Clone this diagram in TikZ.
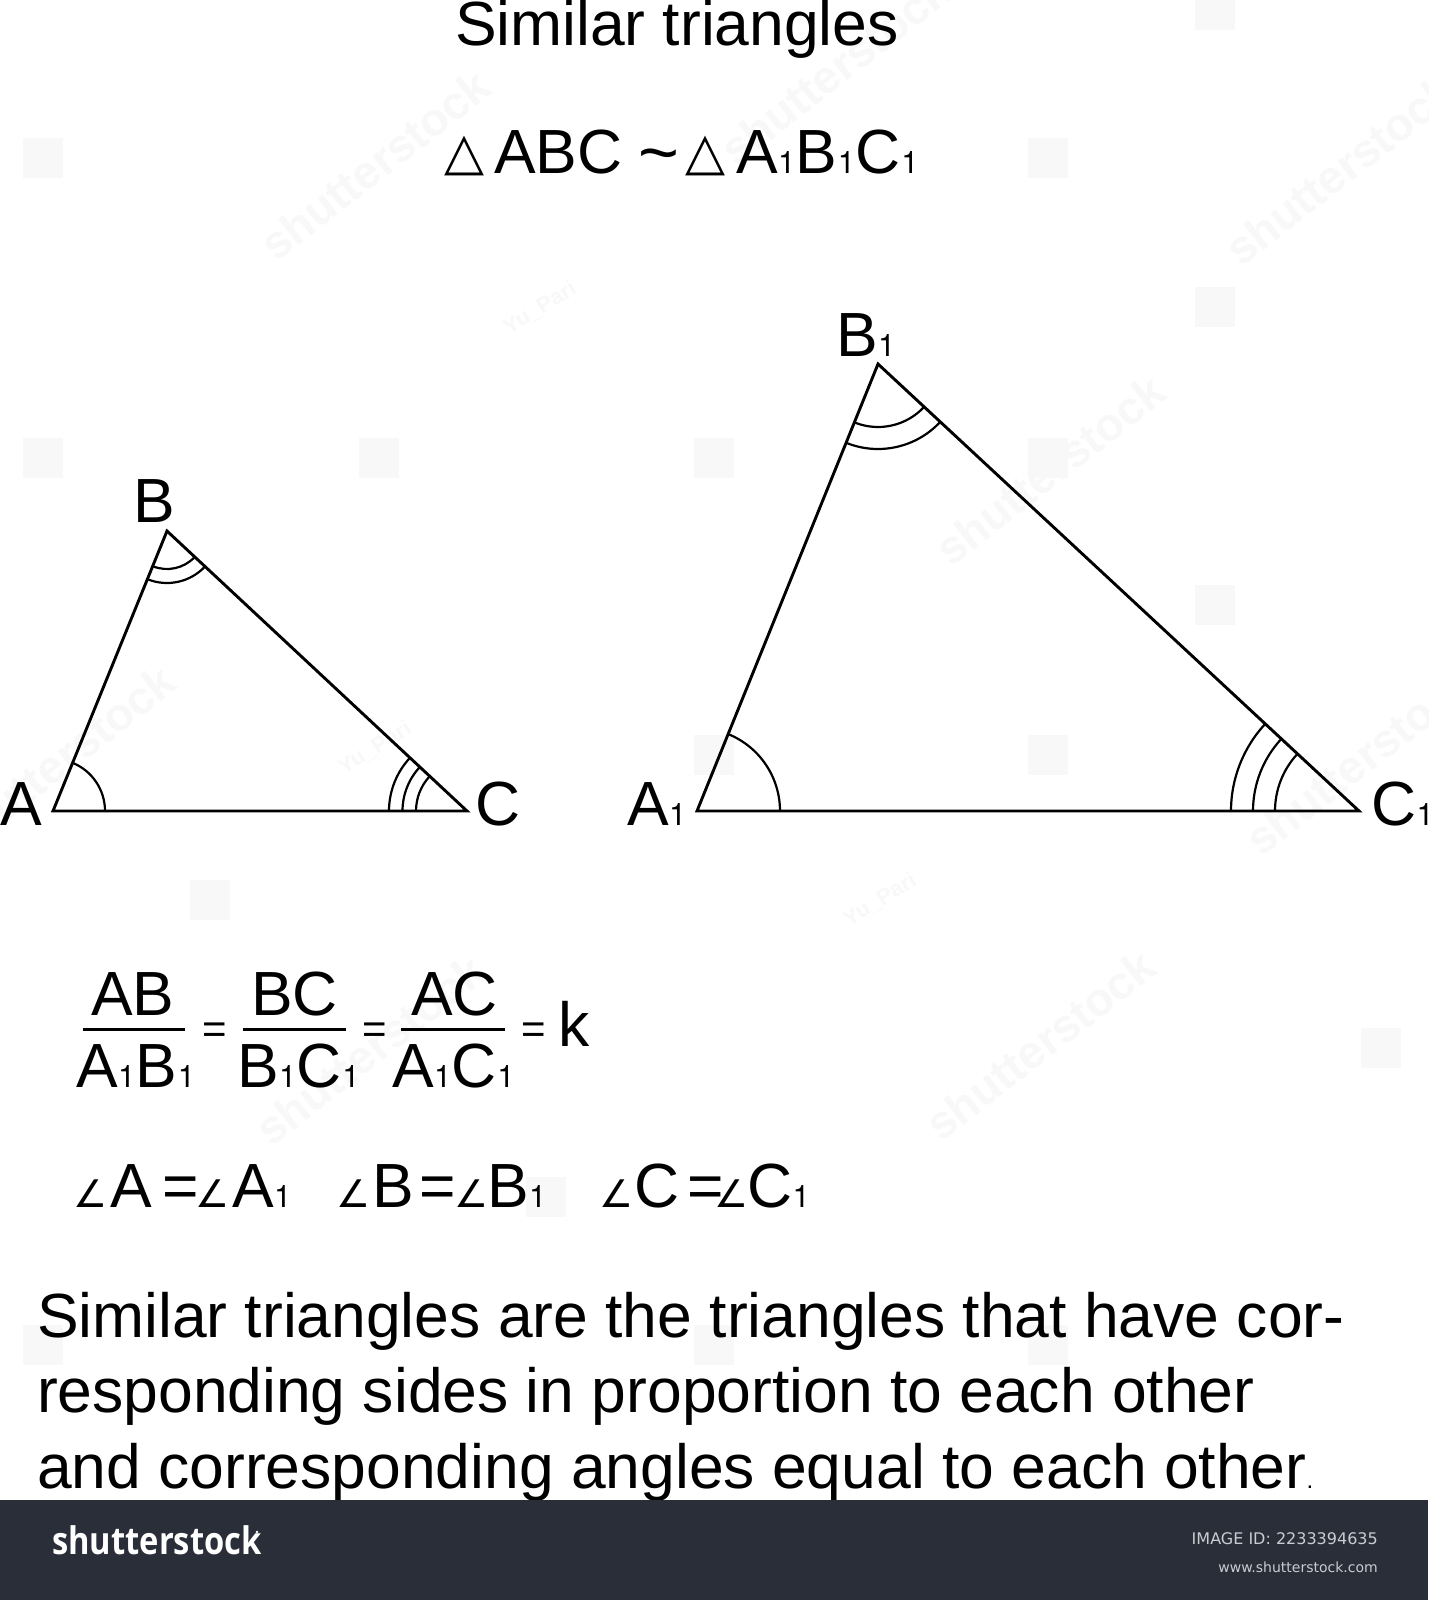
\documentclass[tikz,border=0pt]{standalone}
\usepackage{fontspec}
\setmainfont{Liberation Sans}
\newfontfamily\dejavu{DejaVu Sans}
\newfontfamily\heros{TeX Gyre Heros}
\newfontfamily\logofont{Open Sans}
\definecolor{band}{HTML}{292E39}
\definecolor{foot}{HTML}{C9CCD1}
\definecolor{wm}{HTML}{F8F8F8}
\newcommand{\one}{\kern.5pt{\heros\fontsize{31}{31}\selectfont 1}\kern.5pt}
\newcommand{\tsym}{\raisebox{4pt}{\dejavu\fontsize{52}{52}\selectfont △}}
\newcommand{\asym}{{\dejavu\fontsize{38}{38}\selectfont ∠}}
\tikzset{
  txt/.style={anchor=base west,inner sep=0pt,outer sep=0pt,font=\fontsize{62.4}{62.4}\selectfont},
  eqsmall/.style={anchor=center,inner sep=0pt,outer sep=0pt,font=\fontsize{42}{42}\selectfont},
  side/.style={line width=2.9pt,line join=miter},
  ang/.style={line width=2.2pt},
  bar/.style={line width=3pt},
  wmark/.style={anchor=center,inner sep=0pt,text=wm,rotate=38,font=\bfseries\fontsize{46}{46}\selectfont},
  wmsmall/.style={anchor=center,inner sep=0pt,text=wm,rotate=32,font=\bfseries\fontsize{22}{22}\selectfont},
}
\begin{document}
\begin{tikzpicture}[x=1pt,y=1pt]
\useasboundingbox (0,0) rectangle (1428,-1600);
\fill[white] (0,0) rectangle (1428,-1600);
% faint watermarks
\foreach \cx/\cy in {43/158,1048/158,43/458,379/458,714/458,1048/458,1215/10,1215/307,1215/605,1048/755,714/755,210/900,1381/1048,546/1197,43/1345,714/1345,1048/1345}
  \fill[wm] (\cx-20,-\cy-20) rectangle (\cx+20,-\cy+20);
\node[wmark] (w1) at (375,-165) {shutterstock};
\node[wmark] (w2) at (835,-70) {shutterstock};
\node[wmark] (w3) at (1340,-170) {shutterstock};
\node[wmark] (w4) at (1050,-470) {shutterstock};
\node[wmark] (w5) at (1360,-760) {shutterstock};
\node[wmark] (w6) at (60,-760) {shutterstock};
\node[wmark] (w7) at (1040,-1045) {shutterstock};
\node[wmark] (w8) at (370,-1050) {shutterstock};
\node[wmsmall] (y1) at (540,-308) {Yu\_Pari};
\node[wmsmall] (y2) at (375,-748) {Yu\_Pari};
\node[wmsmall] (y3) at (880,-900) {Yu\_Pari};
% heading
\node[txt] (title) at (455,-46) {Similar triangles};
\node[txt] (tri1) at (444,-173) {\tsym};
\node[txt] (abc) at (494,-173) {ABC};
\node[txt,font=\fontsize{70}{70}\selectfont] (sim) at (638,-176) {\char`\~};
\node[txt] (tri2) at (685,-173) {\tsym};
\node[txt] (abc1) at (736,-173) {A\one B\one C\one};
% small triangle
\coordinate (A) at (53,-811);
\coordinate (B) at (167,-531);
\coordinate (C) at (467,-811);
\draw[side] (A) -- (B) -- (C) -- cycle;
\draw[ang] ([shift={(0:52pt)}]A) arc (0:67.9:52pt);
\foreach \r in {51,64.5,78}
  \draw[ang] ([shift={(136.9:\r pt)}]C) arc (136.9:180:\r pt);
\foreach \r in {38,52}
  \draw[ang] ([shift={(247.9:\r pt)}]B) arc (247.9:316.9:\r pt);
\node[txt] (lA) at (0,-825) {A};
\node[txt] (lB) at (133,-522) {B};
\node[txt] (lC) at (475,-825) {C};
% large triangle
\coordinate (A1) at (697,-811);
\coordinate (B1) at (878,-364);
\coordinate (C1) at (1359,-811);
\draw[side] (A1) -- (B1) -- (C1) -- cycle;
\draw[ang] ([shift={(0:83pt)}]A1) arc (0:68.07:83pt);
\foreach \r in {84,106,128}
  \draw[ang] ([shift={(137.1:\r pt)}]C1) arc (137.1:180:\r pt);
\foreach \r in {63,85}
  \draw[ang] ([shift={(248.07:\r pt)}]B1) arc (248.07:317.1:\r pt);
\node[txt] (lA1) at (627,-825) {A\one};
\node[txt] (lB1) at (836,-356) {B\one};
\node[txt] (lC1) at (1371,-825) {C\one};
% fractions
\node[txt] (n1) at (91,-1015) {AB};
\coordinate (b1l) at (83,-1029); \coordinate (b1r) at (185,-1029);
\draw[bar] (b1l) -- (b1r);
\node[txt] (d1) at (76,-1087) {A\one B\one};
\node[eqsmall] (e1) at (215,-1033) {=};
\node[txt] (n2) at (251,-1015) {BC};
\coordinate (b2l) at (243,-1029); \coordinate (b2r) at (346,-1029);
\draw[bar] (b2l) -- (b2r);
\node[txt] (d2) at (237,-1087) {B\one C\one};
\node[eqsmall] (e2) at (375,-1033) {=};
\node[txt] (n3) at (411,-1015) {AC};
\coordinate (b3l) at (401,-1029); \coordinate (b3r) at (505,-1029);
\draw[bar] (b3l) -- (b3r);
\node[txt] (d3) at (392,-1087) {A\one C\one};
\node[eqsmall] (e3) at (534,-1033) {=};
\node[txt] (k) at (558,-1046) {k};
% angles
\node[txt] (a1) at (73,-1207) {\asym};
\node[txt] (a2) at (110,-1207) {A};
\node[txt] (a3) at (162,-1207) {=};
\node[txt] (a4) at (195,-1207) {\asym};
\node[txt] (a5) at (232,-1207) {A\one};
\node[txt] (b1) at (336,-1207) {\asym};
\node[txt] (b2) at (372,-1207) {B};
\node[txt] (b3) at (419,-1207) {=};
\node[txt] (b4) at (454,-1207) {\asym};
\node[txt] (b5) at (487,-1207) {B\one};
\node[txt] (c1) at (599,-1207) {\asym};
\node[txt] (c2) at (634,-1207) {C};
\node[txt] (c3) at (687,-1207) {=};
\node[txt] (c4) at (714,-1207) {\asym};
\node[txt] (c5) at (747,-1207) {C\one};
% paragraph
\node[txt] (p1) at (37,-1337) {Similar triangles are the triangles that have cor-};
\node[txt] (p2) at (37,-1412) {responding sides in proportion to each other};
\node[txt] (p3) at (37,-1488) {and corresponding angles equal to each other{\fontsize{24}{24}\selectfont .}};
% footer band
\fill[band] (0,-1500) rectangle (1428,-1600);
\node[anchor=base west,inner sep=0pt,text=white,xscale=.86,transform shape,font=\logofont\bfseries\fontsize{38}{38}\selectfont] (logo) at (52,-1554) {shutterstock};
\fill[white] (257,-1532) circle (1.3pt);
\node[anchor=base east,inner sep=0pt,text=foot,font=\dejavu\fontsize{16}{16}\selectfont] (id) at (1378,-1544) {IMAGE ID: 2233394635};
\node[anchor=base east,inner sep=0pt,text=foot,font=\dejavu\fontsize{14}{14}\selectfont] (www) at (1378,-1572) {www.shutterstock.com};
\end{tikzpicture}
\end{document}
